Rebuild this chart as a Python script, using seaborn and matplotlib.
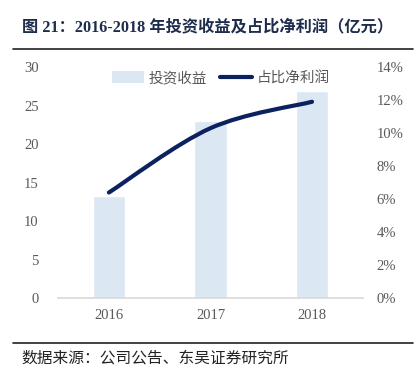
import numpy as np
import pandas as pd
import seaborn as sns
import matplotlib.pyplot as plt
from matplotlib.path import Path
from matplotlib.patches import PathPatch
from matplotlib.lines import Line2D
from matplotlib.patches import Patch
from matplotlib.ticker import FuncFormatter

# data
years = ["2016", "2017", "2018"]
invest_income = [13.3, 23.0, 26.9]      # 亿元
profit_share = [6.4, 10.3, 11.9]        # %

sns.set_theme(style="white")
plt.rcParams['font.family'] = ['Liberation Serif', 'Noto Sans CJK SC', 'DejaVu Sans']

df = pd.DataFrame({"year": years, "income": invest_income, "share": profit_share})

fig = plt.figure(figsize=(4.18, 3.75), dpi=100)
ax = fig.add_axes([0.139, 0.205, 0.729, 0.616])

sns.barplot(data=df, x="year", y="income", color="#dce7f4", saturation=1,
            width=0.32, ax=ax)
ax.set_xlim(-0.5, 2.5)
ax.set_ylim(0, 30)
ax.set_yticks(range(0, 31, 5))
ax.set_xlabel("")
ax.set_ylabel("")
for s in ["top", "right", "left"]:
    ax.spines[s].set_visible(False)
ax.spines["bottom"].set_color("#d9d9d9")
ax.spines["bottom"].set_linewidth(1.2)
ax.tick_params(axis="both", length=0, labelsize=10.5, colors="#595959", pad=8)
ax.tick_params(axis="y", pad=14)

ax2 = ax.twinx()
ax2.set_ylim(0, 14)
ax2.set_yticks(range(0, 15, 2))
ax2.yaxis.set_major_formatter(FuncFormatter(lambda v, p: f"{v:.0f}%"))
for s in ax2.spines.values():
    s.set_visible(False)
ax2.tick_params(axis="y", length=0, labelsize=10.5, colors="#595959", pad=10)

# smoothed line (Bezier through data points, like Excel's smooth line)
xs = np.arange(len(years), dtype=float)
ys = np.array(profit_share, dtype=float)
pts = np.column_stack([xs, ys])
verts = [pts[0]]
codes = [Path.MOVETO]
t = 1 / 6
for i in range(len(pts) - 1):
    p0 = pts[i - 1] if i > 0 else pts[i]
    p1, p2 = pts[i], pts[i + 1]
    p3 = pts[i + 2] if i + 2 < len(pts) else pts[i + 1]
    c1 = p1 + (p2 - p0) * t
    c2 = p2 - (p3 - p1) * t
    verts += [c1, c2, p2]
    codes += [Path.CURVE4] * 3
ax2.add_patch(PathPatch(Path(verts, codes), facecolor="none",
                        edgecolor="#0b2160", lw=3, capstyle="round"))

handles = [Patch(facecolor="#dce7f4", edgecolor="none"),
           Line2D([], [], color="#0b2160", lw=3)]
leg = ax.legend(handles, ["投资收益", "占比净利润"], loc="upper center",
                bbox_to_anchor=(0.535, 1.04), ncol=2, frameon=False,
                prop={"family": ["Noto Sans CJK SC"], "size": 10.5},
                handlelength=2.2, handleheight=0.8, columnspacing=0.9,
                handletextpad=0.3)
for txt in leg.get_texts():
    txt.set_color("#595959")

# title and source
fig.text(0.052, 0.928, "图 21：2016-2018 年投资收益及占比净利润（亿元）",
         fontsize=11.7, fontweight="bold", color="#1f2d4d", va="center",
         family=["Liberation Serif", "Noto Sans CJK SC"])
fig.add_artist(Line2D([0.03, 0.988], [0.869, 0.869], color="#222222", lw=1.2))
fig.add_artist(Line2D([0.03, 0.988], [0.085, 0.085], color="#222222", lw=1.2))
fig.text(0.052, 0.045, "数据来源：公司公告、东吴证券研究所", fontsize=11.3,
         color="#222222", va="center", family=["Noto Sans CJK SC"])

fig.savefig("out.png", dpi=100)
